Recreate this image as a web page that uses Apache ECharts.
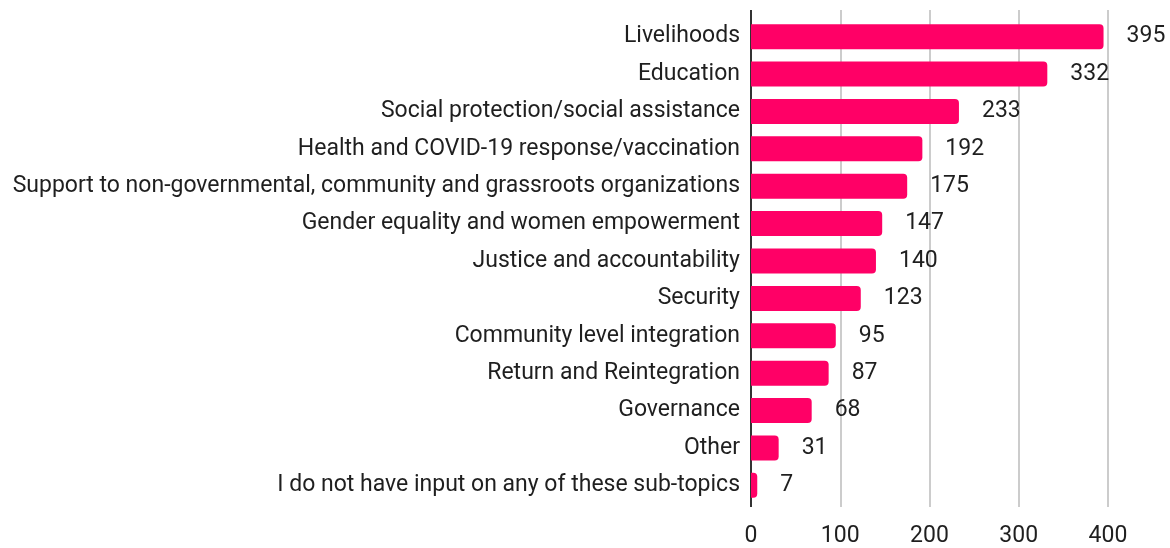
<!DOCTYPE html>
<html>
<head>
<meta charset="utf-8">
<script src="https://cdn.jsdelivr.net/npm/echarts@6/dist/echarts.min.js"></script>
<style>
  html, body { margin: 0; padding: 0; background: #ffffff; }
  #chart { width: 1170px; height: 548px; }
</style>
</head>
<body>
<div id="chart"></div>
<script>
// Sub-topics and number of responses for each
const categories = [
  "Livelihoods",
  "Education",
  "Social protection/social assistance",
  "Health and COVID-19 response/vaccination",
  "Support to non-governmental, community and grassroots organizations",
  "Gender equality and women empowerment",
  "Justice and accountability",
  "Security",
  "Community level integration",
  "Return and Reintegration",
  "Governance",
  "Other",
  "I do not have input on any of these sub-topics"
];
const responses = [395, 332, 233, 192, 175, 147, 140, 123, 95, 87, 68, 31, 7];
const axisMax = 400;
const axisStep = 100;

const textColor = '#1f1f1f';
const fontSize = 23;

const chart = echarts.init(document.getElementById('chart'));
chart.setOption({
  animation: false,
  textStyle: { fontFamily: 'Roboto, sans-serif' },
  grid: [
    // frame grid: gridlines, zero line and value ticks (slightly taller than the bars)
    { left: 751, right: 62, top: 10, bottom: 39 },
    // bar grid
    { left: 751, right: 62, top: 18, bottom: 44 }
  ],
  xAxis: [
    {
      gridIndex: 0,
      type: 'value',
      min: 0,
      max: axisMax,
      interval: axisStep,
      axisLine: { show: false },
      axisTick: { show: false },
      splitLine: {
        show: true,
        lineStyle: { color: ['#333333', '#cccccc', '#cccccc', '#cccccc', '#cccccc'], width: 2 }
      },
      axisLabel: { color: textColor, fontSize: fontSize, margin: 18 }
    },
    {
      gridIndex: 1,
      type: 'value',
      min: 0,
      max: axisMax,
      interval: axisStep,
      show: false
    }
  ],
  yAxis: [
    {
      gridIndex: 0,
      type: 'value',
      show: false
    },
    {
      gridIndex: 1,
      type: 'category',
      data: categories,
      inverse: true,
      axisLine: { show: false },
      axisTick: { show: false },
      splitLine: { show: false },
      axisLabel: { color: textColor, fontSize: fontSize, margin: 11, padding: [4, 0, 0, 0] }
    }
  ],
  series: [{
    type: 'bar',
    xAxisIndex: 1,
    yAxisIndex: 1,
    data: responses,
    barWidth: 25,
    itemStyle: { color: '#ff0066', borderRadius: [0, 4, 4, 0] },
    label: {
      show: true,
      position: 'right',
      distance: 23,
      color: textColor,
      fontSize: fontSize,
      padding: [4, 0, 0, 0]
    }
  }]
});
</script>
</body>
</html>
